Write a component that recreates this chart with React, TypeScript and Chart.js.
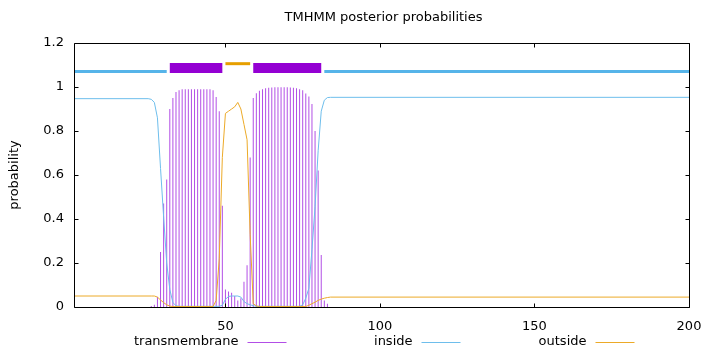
import React, { useEffect, useRef } from "react";
import { Chart, registerables } from "chart.js";

Chart.register(...registerables);

// ---------- data ----------
const TITLE = "TMHMM posterior probabilities";
const Y_LABEL = "probability";
const SERIES_NAMES = ["transmembrane", "inside", "outside"];
const X_MIN = 1;
const X_MAX = 200;
const X_TICKS = [50, 100, 150, 200];
const Y_TICKS = [0, 0.2, 0.4, 0.6, 0.8, 1, 1.2];

// transmembrane posterior (impulses)
const tmResidues = [
  26, 27, 28, 29, 30, 31, 32, 33, 34, 35, 36, 37, 38, 39, 40, 41, 42, 43, 44, 45,
  46, 47, 48, 49, 50, 51, 52, 53, 54, 55, 56, 57, 58, 59, 60, 61, 62, 63, 64, 65,
  66, 67, 68, 69, 70, 71, 72, 73, 74, 75, 76, 77, 78, 79, 80, 81, 82, 83,
];
const tmProb = [
  0.005, 0.01, 0.045, 0.25, 0.47, 0.58, 0.9, 0.95, 0.977, 0.985, 0.99, 0.99, 0.99, 0.99, 0.99, 0.99, 0.99, 0.99, 0.99, 0.99,
  0.985, 0.955, 0.89, 0.46, 0.08, 0.07, 0.065, 0.05, 0.03, 0.04, 0.115, 0.19, 0.68, 0.95, 0.972, 0.983, 0.99, 0.994, 0.997, 0.998,
  0.999, 0.999, 0.999, 0.999, 0.999, 0.998, 0.997, 0.994, 0.99, 0.985, 0.97, 0.957, 0.923, 0.8, 0.62, 0.236, 0.03, 0.015,
];

// inside posterior (line)
const insideResidues = [
  1, 25, 26, 27, 28, 29, 30, 31, 32, 33, 34, 35, 48, 49, 50, 51, 52, 53, 54, 55,
  56, 57, 58, 59, 60, 74, 75, 76, 77, 78, 79, 80, 81, 82, 83, 84, 200,
];
const insideProb = [
  0.947, 0.947, 0.944, 0.93, 0.86, 0.63, 0.41, 0.2, 0.08, 0.02, 0.006, 0.003, 0.003, 0.008, 0.035, 0.048, 0.05, 0.05, 0.05, 0.045,
  0.025, 0.015, 0.01, 0.006, 0.003, 0.003, 0.01, 0.04, 0.085, 0.26, 0.456, 0.71, 0.89, 0.94, 0.952, 0.953, 0.953,
];

// outside posterior (line)
const outsideResidues = [
  1, 26, 27, 28, 29, 30, 31, 32, 33, 46, 47, 48, 49, 50, 51, 52, 53, 54, 55, 56,
  57, 58, 59, 60, 61, 76, 77, 78, 79, 80, 81, 82, 83, 84, 200,
];
const outsideProb = [
  0.05, 0.05, 0.05, 0.045, 0.032, 0.02, 0.01, 0.004, 0.002, 0.002, 0.03, 0.22, 0.68, 0.88, 0.89, 0.9, 0.91, 0.93, 0.9, 0.83,
  0.76, 0.33, 0.015, 0.005, 0.002, 0.002, 0.008, 0.015, 0.022, 0.03, 0.036, 0.04, 0.043, 0.045, 0.045,
];

// predicted topology segments (start, end residue)
const insideSegments = [
  [1, 31],
  [82, 200],
];
const tmSegments = [
  [32, 49],
  [59, 81],
];
const outsideSegments = [[50, 58]];

// ---------- styles ----------
const C_TM = "#9400D3";
const C_TM_IMPULSE = "rgb(178, 78, 230)";
const C_INSIDE = "#56B4E9";
const C_INSIDE_CURVE = "rgb(110, 190, 236)";
const C_OUTSIDE = "#E69F00";
const C_OUTSIDE_CURVE = "rgb(236, 170, 40)";
const FONT_FAMILY = '"DejaVu Sans", sans-serif';
const FONT_SIZE = 13;
const LEVEL_INSIDE = 1.07;
const LEVEL_TM = 1.086;
const LEVEL_OUTSIDE = 1.106;

const W = 720;
const H = 352;

function segmentData(segs: number[][], level: number) {
  const out: any[] = [];
  segs.forEach((s, i) => {
    if (i > 0) out.push({ x: s[0], y: null });
    out.push({ x: s[0], y: level });
    out.push({ x: s[1], y: level });
  });
  return out;
}

const framePlugin = {
  id: "gnuplotFrame",
  afterDatasetsDraw(chart: any) {
    const { ctx, chartArea, scales } = chart;
    const { left, right, top, bottom } = chartArea;
    const L = Math.round(left) + 0.5;
    const R = Math.round(right) + 0.5;
    const T = Math.round(top) + 0.5;
    const B = Math.round(bottom) + 0.5;
    ctx.save();
    ctx.strokeStyle = "#000";
    ctx.lineWidth = 1;
    ctx.beginPath();
    ctx.rect(L, T, R - L, B - T);
    ctx.stroke();
    const tl = 4;
    ctx.beginPath();
    X_TICKS.forEach((v) => {
      const px = Math.round(scales.x.getPixelForValue(v)) + 0.5;
      ctx.moveTo(px, B);
      ctx.lineTo(px, B - tl);
      ctx.moveTo(px, T);
      ctx.lineTo(px, T + tl);
    });
    Y_TICKS.forEach((v) => {
      const py = Math.round(scales.y.getPixelForValue(v)) + 0.5;
      ctx.moveTo(L, py);
      ctx.lineTo(L + tl, py);
      ctx.moveTo(R, py);
      ctx.lineTo(R - tl, py);
    });
    ctx.stroke();
    ctx.restore();
  },
  afterDraw(chart: any) {
    const { ctx, chartArea } = chart;
    const cx = (chartArea.left + chartArea.right) / 2;
    const cy = (chartArea.top + chartArea.bottom) / 2;
    ctx.save();
    ctx.fillStyle = "#000";
    ctx.font = `${FONT_SIZE}px ${FONT_FAMILY}`;
    // title
    ctx.textAlign = "center";
    ctx.textBaseline = "middle";
    ctx.fillText(TITLE, cx + 2, 18);
    // y label
    ctx.save();
    ctx.translate(15, cy);
    ctx.rotate(-Math.PI / 2);
    ctx.fillText(Y_LABEL, 0, 0);
    ctx.restore();
    // legend
    const colors = [C_TM_IMPULSE, C_INSIDE_CURVE, C_OUTSIDE_CURVE];
    const colW = 174;
    const keyY = 342;
    SERIES_NAMES.forEach((name, i) => {
      const tr = cx - 143 + i * colW;
      ctx.fillStyle = "#000";
      ctx.textAlign = "right";
      ctx.textBaseline = "middle";
      ctx.fillText(name, tr, keyY);
      ctx.strokeStyle = colors[i];
      ctx.lineWidth = 1;
      ctx.beginPath();
      ctx.moveTo(tr + 9, keyY + 0.5);
      ctx.lineTo(tr + 48, keyY + 0.5);
      ctx.stroke();
    });
    ctx.restore();
  },
};

export default function App() {
  const ref = useRef<HTMLCanvasElement | null>(null);

  useEffect(() => {
    document.body.style.margin = "0";
    const canvas = ref.current;
    if (!canvas) return;
    const font = { family: FONT_FAMILY, size: FONT_SIZE };
    const chart = new Chart(canvas, {
      type: "bar",
      data: {
        datasets: [
          {
            type: "line",
            label: "inside segments",
            data: segmentData(insideSegments, LEVEL_INSIDE),
            borderColor: C_INSIDE,
            borderWidth: 3,
            borderCapStyle: "butt",
            pointRadius: 0,
            spanGaps: false,
            order: 0,
          } as any,
          {
            type: "line",
            label: "tm segments",
            data: segmentData(tmSegments, LEVEL_TM),
            borderColor: C_TM,
            borderWidth: 10,
            borderCapStyle: "butt",
            pointRadius: 0,
            spanGaps: false,
            order: 0,
          } as any,
          {
            type: "line",
            label: "outside segments",
            data: segmentData(outsideSegments, LEVEL_OUTSIDE),
            borderColor: C_OUTSIDE,
            borderWidth: 3,
            borderCapStyle: "butt",
            pointRadius: 0,
            spanGaps: false,
            order: 0,
          } as any,
          {
            type: "line",
            label: SERIES_NAMES[2],
            data: outsideResidues.map((x, i) => ({ x, y: outsideProb[i] })),
            borderColor: C_OUTSIDE_CURVE,
            borderWidth: 1,
            pointRadius: 0,
            tension: 0,
            order: 1,
          } as any,
          {
            type: "line",
            label: SERIES_NAMES[1],
            data: insideResidues.map((x, i) => ({ x, y: insideProb[i] })),
            borderColor: C_INSIDE_CURVE,
            borderWidth: 1,
            pointRadius: 0,
            tension: 0,
            order: 2,
          } as any,
          {
            type: "bar",
            label: SERIES_NAMES[0],
            data: tmResidues.map((x, i) => ({ x, y: tmProb[i] })),
            backgroundColor: C_TM_IMPULSE,
            borderWidth: 0,
            barThickness: 1,
            inflateAmount: 0,
            grouped: false,
            order: 3,
          } as any,
        ],
      },
      options: {
        responsive: false,
        animation: false,
        devicePixelRatio: 1,
        layout: { padding: { left: 0, right: 31, top: 43, bottom: 0 } },
        plugins: {
          legend: { display: false },
          tooltip: { enabled: false },
          title: { display: false },
        },
        scales: {
          x: {
            type: "linear",
            min: X_MIN,
            max: X_MAX,
            offset: false,
            grid: { display: false, drawTicks: false },
            border: { display: false },
            ticks: { font, color: "#000", padding: 12, maxRotation: 0, autoSkip: false, callback: (v: any) => `${v}` },
            afterBuildTicks: (s: any) => {
              s.ticks = X_TICKS.map((v) => ({ value: v }));
            },
            afterFit: (s: any) => {
              s.height = 45;
            },
          },
          y: {
            type: "linear",
            min: 0,
            max: 1.2,
            grid: { display: false, drawTicks: false },
            border: { display: false },
            ticks: { font, color: "#000", padding: 10, callback: (v: any) => `${v}` },
            afterBuildTicks: (s: any) => {
              s.ticks = Y_TICKS.map((v) => ({ value: v }));
            },
            afterFit: (s: any) => {
              s.width = 74;
            },
          },
        },
      } as any,
      plugins: [framePlugin],
    });
    return () => chart.destroy();
  }, []);

  return (
    <div style={{ width: W, height: H, background: "#fff" }}>
      <canvas ref={ref} width={W} height={H} style={{ display: "block" }} />
    </div>
  );
}
